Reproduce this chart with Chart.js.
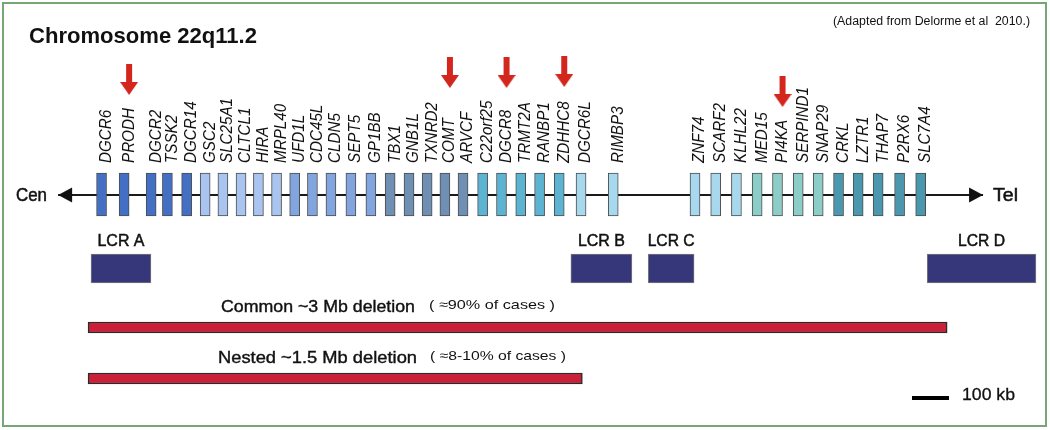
<!DOCTYPE html>
<html><head><meta charset="utf-8">
<script src="https://cdn.jsdelivr.net/npm/chart.js@4.4.1/dist/chart.umd.min.js"></script>
<style>html,body{margin:0;padding:0;background:#fff;overflow:hidden}canvas{display:block}</style>
</head><body>
<canvas id="c" width="1050" height="430"></canvas>
<script>
// ---------------- data ----------------
const geneNames = ['DGCR6','PRODH','DGCR2','TSSK2','DGCR14','GSC2','SLC25A1','CLTCL1','HIRA','MRPL40',
  'UFD1L','CDC45L','CLDN5','SEPT5','GP1BB','TBX1','GNB1L','TXNRD2','COMT','ARVCF',
  'C22orf25','DGCR8','TRMT2A','RANBP1','ZDHHC8','DGCR6L','RIMBP3',
  'ZNF74','SCARF2','KLHL22','MED15','PI4KA','SERPIND1','SNAP29','CRKL','LZTR1','THAP7','P2RX6','SLC7A4'];
// schematic position along 22q11.2 (kb from the start of LCR A region)
const genePosKb = [50,111,184,228,280,330,378,427,474,523,
  572,620,670,724,778,830,881,930,978,1027,
  1080,1131,1183,1234,1287,1346,1433,
  1654,1710,1766,1822,1877,1933,1987,2042,2095,2149,2207,2264];
const geneGroup = [0,0,0,0,0,1,1,1,1,1,
  2,2,2,2,2,3,3,3,3,3,
  4,4,4,4,4,5,5,
  5,5,5,6,6,6,6,7,7,7,7,7];
const markedGenes = ['PRODH','COMT','DGCR8','ZDHHC8','PI4KA'];
const lcrNames = ['LCR A','LCR B','LCR C','LCR D'];
const lcrStartKb = [8,1305,1514,2268];
const lcrEndKb = [170,1470,1638,2562];
const deletionNames = ['Common ~3 Mb deletion','Nested ~1.5 Mb deletion'];
const deletionShare = ['( \u224890% of cases )','( \u22488-10% of cases )'];
const deletionStartKb = [0,0];
const deletionEndKb = [2322,1336];
const chromosomeEndsKb = [-81, 2419];
const scaleBarKb = 100;

// ---------------- layout / style ----------------
const KB_MIN = -238, KB_MAX = 2600;
const TRACK = {geneTop:173, geneBottom:216, axis:195, lcr:268.5, del:[327.5,378.5], bar:398, labelBase:163};
const arrowTipY = {PRODH:95, COMT:88, DGCR8:88, ZDHHC8:87, PI4KA:107};
const palette = ['#4370c4','#a9c5ef','#82a5df','#7090b3','#5db3d2','#a7d8ee','#8ccdc7','#4b98ae'];
const scaleBarStartKb = 2227;

function mkCanvas(w,h,fn){const c=document.createElement('canvas');c.width=w;c.height=h;fn(c.getContext('2d'));return c;}
const redArrow = mkCanvas(18,31,g=>{g.fillStyle='#d3261c';g.fillRect(6,0,6,19);g.beginPath();g.moveTo(0,18);g.lineTo(18,18);g.lineTo(9,31);g.closePath();g.fill();});
const headLeft = mkCanvas(30,16,g=>{g.fillStyle='#111';g.beginPath();g.moveTo(15,8);g.lineTo(29,0.5);g.lineTo(29,15.5);g.closePath();g.fill();});
const headRight = mkCanvas(30,16,g=>{g.fillStyle='#111';g.beginPath();g.moveTo(15,8);g.lineTo(1,0.5);g.lineTo(1,15.5);g.closePath();g.fill();});

const SANS = "'Liberation Sans', Arial, sans-serif";
function drawFit(ctx, s, x, y, font, width, align, heavy){
  ctx.save(); ctx.font = font; ctx.textBaseline = 'middle'; ctx.textAlign = align || 'left';
  const w = ctx.measureText(s).width; const sx = width ? width / w : 1;
  ctx.translate(x, y); ctx.scale(sx, 1); ctx.fillText(s, 0, 0);
  if (heavy) { ctx.strokeStyle = ctx.fillStyle; ctx.lineWidth = heavy; ctx.strokeText(s, 0, 0); }
  ctx.restore();
}

const decor = {
  id:'decor',
  beforeDraw(chart){const c=chart.ctx;c.save();c.fillStyle='#fff';c.fillRect(0,0,chart.width,chart.height);c.restore();},
  afterDraw(chart){
    const c = chart.ctx, xs = chart.scales.x, xs2 = chart.scales.x2;
    c.save(); c.fillStyle = '#111';
    // gene labels
    geneNames.forEach((n,i)=>{
      const px = xs.getPixelForValue(genePosKb[i]);
      c.save(); c.translate(px, TRACK.labelBase); c.rotate(-Math.PI/2); c.scale(0.95,1);
      c.font = 'italic 16px ' + SANS; c.textAlign='left'; c.textBaseline='middle';
      c.fillText(n, 0, 0); c.restore();
    });
    // LCR labels
    lcrNames.forEach((n,i)=>{
      const px = (xs2.getPixelForValue(lcrStartKb[i]) + xs2.getPixelForValue(lcrEndKb[i]))/2;
      drawFit(c, n, px, 242, '16px ' + SANS, 47, 'center', 0.5);
    });
    // deletion labels
    drawFit(c, deletionNames[0], 221, 307, '17px ' + SANS, 194, 'left', 0.4);
    drawFit(c, deletionShare[0], 429, 305, '13px ' + SANS, 126);
    drawFit(c, deletionNames[1], 218, 358, '17px ' + SANS, 199, 'left', 0.4);
    drawFit(c, deletionShare[1], 430, 356, '13px ' + SANS, 136);
    // title etc
    drawFit(c, 'Chromosome 22q11.2', 29, 37, 'bold 22px ' + SANS, 228);
    drawFit(c, '(Adapted from Delorme et al  2010.)', 833, 22, '12px ' + SANS, 197);
    drawFit(c, 'Cen', 16, 196, '18px ' + SANS, 31, 'left', 0.5);
    drawFit(c, 'Tel', 993, 196, '18px ' + SANS, 25, 'left', 0.5);
    drawFit(c, scaleBarKb + ' kb', 962, 395, '17px ' + SANS, 53, 'left', 0.3);
    // frame
    c.strokeStyle = '#76a676'; c.lineWidth = 2; c.strokeRect(3,3,1043,423);
    c.restore();
  }
};

const hidden = (axis, min, max, rev) => ({type:'linear', axis, min, max, reverse: !!rev, offset:false, display:false, grid:{display:false, offset:false}});

new Chart(document.getElementById('c'), {
  type: 'bar',
  data: { datasets: [
    { label:'genes', order:0, data: genePosKb.map(p=>({x:p, y:[TRACK.geneTop, TRACK.geneBottom]})),
      backgroundColor: geneGroup.map(g=>palette[g]), borderColor:'#4d4d4d', borderWidth:1, borderSkipped:false,
      barThickness:10 },
    { type:'scatter', label:'marked', order:0,
      data: markedGenes.map(n=>({x: genePosKb[geneNames.indexOf(n)], y: arrowTipY[n]-15.5})),
      pointStyle: redArrow, pointRadius:5 },
    { type:'line', label:'chromosome', order:3,
      data: chromosomeEndsKb.map(x=>({x, y:TRACK.axis})),
      borderColor:'#1a1a1a', borderWidth:2, pointStyle:[headLeft, headRight], pointRadius:5, fill:false },
    { label:'LCR', indexAxis:'y', xAxisID:'x2', yAxisID:'y2', grouped:false, order:1,
      data: lcrStartKb.map((s,i)=>({x:[s, lcrEndKb[i]], y:TRACK.lcr})),
      backgroundColor:'#36367a', borderColor:'#7a7a7a', borderWidth:1, borderSkipped:false,
      maxBarThickness:29, barPercentage:1, categoryPercentage:1 },
    { label:'deletions', indexAxis:'y', xAxisID:'x2', yAxisID:'y2', grouped:false, order:1,
      data: deletionStartKb.map((s,i)=>({x:[s, deletionEndKb[i]], y:TRACK.del[i]})),
      backgroundColor:'#cc1f38', borderColor:'#2b2b2b', borderWidth:1.5, borderSkipped:false,
      maxBarThickness:11, barPercentage:1, categoryPercentage:1 },
    { type:'line', label:'scale bar', order:1,
      data: [{x:scaleBarStartKb, y:TRACK.bar},{x:scaleBarStartKb+scaleBarKb, y:TRACK.bar}],
      borderColor:'#000', borderWidth:4, borderCapStyle:'butt', pointRadius:0 }
  ]},
  options: {
    responsive:false, animation:false, events:[],
    layout:{padding:0, autoPadding:false},
    plugins:{legend:{display:false}, tooltip:{enabled:false}},
    scales:{
      x: hidden('x', KB_MIN, KB_MAX), y: hidden('y', 0, 430, true),
      x2: hidden('x', KB_MIN, KB_MAX), y2: hidden('y', 0, 430, true)
    }
  },
  plugins:[decor]
});
</script>
</body></html>
